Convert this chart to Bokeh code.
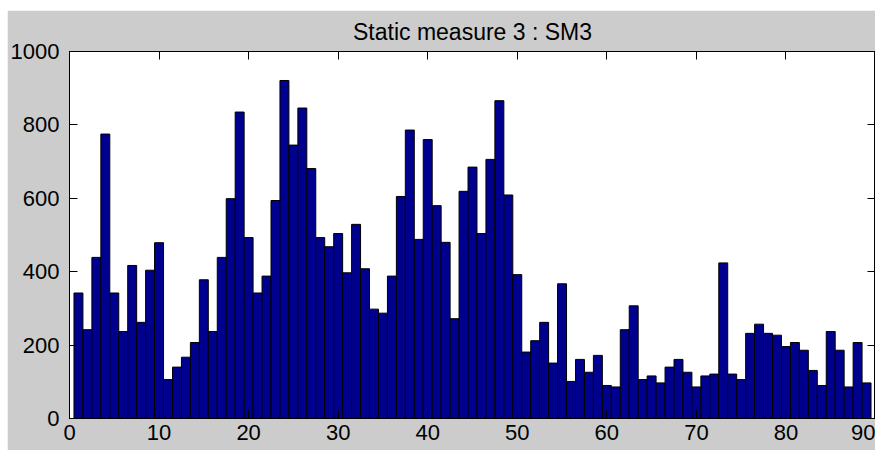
from bokeh.plotting import figure
from bokeh.models import LinearAxis, FixedTicker, Range1d
from bokeh.embed import file_html
from bokeh.resources import INLINE

title_text = "Static measure 3 : SM3"
bins = list(range(1, 90))
counts = [342, 242, 439, 775, 342, 237, 417, 262, 404, 479,
          106, 140, 167, 207, 378, 237, 439, 599, 835, 493,
          342, 388, 594, 921, 745, 846, 681, 493, 468, 504,
          397, 529, 408, 298, 287, 388, 605, 786, 488, 760,
          580, 480, 272, 619, 685, 504, 706, 866, 609, 392,
          181, 212, 262, 151, 367, 101, 161, 126, 172, 90,
          86, 242, 307, 106, 116, 97, 140, 161, 126, 86,
          116, 121, 424, 121, 106, 232, 257, 232, 227, 196,
          207, 186, 131, 90, 237, 186, 86, 207, 97]
x_ticks = list(range(0, 91, 10))
y_ticks = list(range(0, 1001, 200))

FONT = "Liberation Sans"
GRAY = "#cccccc"

p = figure(width=868, height=440, x_range=Range1d(0, 90), y_range=Range1d(0, 1000),
           output_backend="svg", toolbar_location=None,
           min_border_left=60, min_border_right=0, min_border_top=40, min_border_bottom=32,
           background_fill_color="white", border_fill_color=GRAY,
           margin=(10, 0, 0, 7))

p.vbar(x=bins, top=counts, width=1.0, fill_color="#00008f", line_color="black", line_width=1)

p.grid.visible = False
p.outline_line_color = "black"
p.outline_line_width = 1

def style(ax, show_labels=True):
    ax.major_tick_in = 8
    ax.major_tick_out = 0
    ax.minor_tick_line_color = None
    ax.axis_line_color = "black"
    ax.major_tick_line_color = "black"
    ax.major_label_text_font = FONT
    ax.major_label_text_color = "black"
    if show_labels:
        ax.major_label_text_font_size = "22px"
    else:
        ax.major_label_text_font_size = "0px"
        ax.major_label_text_alpha = 0
        ax.major_label_standoff = 0

p.xaxis.ticker = FixedTicker(ticks=x_ticks)
p.yaxis.ticker = FixedTicker(ticks=y_ticks)
style(p.xaxis[0])
style(p.yaxis[0])
p.xaxis.major_label_standoff = 6
p.yaxis.major_label_standoff = 10

top = LinearAxis(ticker=FixedTicker(ticks=x_ticks))
right = LinearAxis(ticker=FixedTicker(ticks=y_ticks))
style(top, False)
style(right, False)
p.add_layout(top, "above")
p.add_layout(right, "right")

p.title.text = title_text
p.title.align = "center"
p.title.text_font = FONT
p.title.text_font_size = "23px"
p.title.text_font_style = "normal"
p.title.text_color = "black"
p.title.standoff = 13

open("out.html", "w").write(file_html(p, INLINE))
